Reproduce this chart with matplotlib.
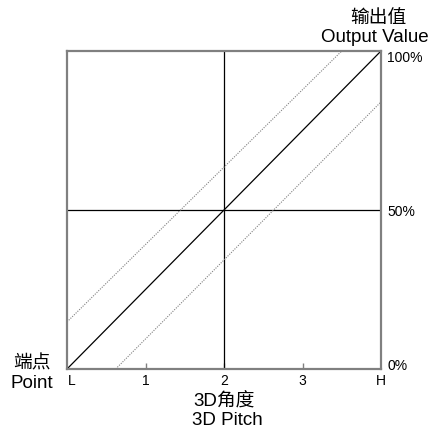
import matplotlib
matplotlib.use("Agg")
import matplotlib.pyplot as plt

plt.rcParams['font.family'] = ['Liberation Sans', 'Noto Sans CJK SC', 'DejaVu Sans']

# ---------- Data ----------
x_ticks = [0, 1, 2, 3, 4]
x_labels = ["L", "1", "2", "3", "H"]
y_ticks = [0, 50, 100]
y_labels = ["0%", "50%", "100%"]

# centre line (3D pitch L..H -> output 0..100 %)
mid_x = [0, 4]
mid_y = [0, 100]
# tolerance band, dotted
upper_x = [0, 3.50]
upper_y = [14.8, 100]
lower_x = [0.62, 4]
lower_y = [0, 84]

GRAY = "#808080"
W, H = 438, 431

fig = plt.figure(figsize=(W / 100, H / 100), dpi=100)
ax = fig.add_axes([67 / W, (H - 370) / H, 314 / W, 318 / H])

# center cross
ax.axvline(2, color="black", lw=0.9)
ax.axhline(50, color="black", lw=0.9)

ax.plot(mid_x, mid_y, color="black", lw=0.9)
ax.plot(upper_x, upper_y, color=GRAY, lw=0.8, ls=(0, (1, 1.2)))
ax.plot(lower_x, lower_y, color=GRAY, lw=0.8, ls=(0, (1, 1.2)))

ax.set_xlim(0, 4)
ax.set_ylim(0, 100)

for s in ax.spines.values():
    s.set_color(GRAY)
    s.set_linewidth(1.6)

ax.set_xticks(x_ticks[1:-1])
ax.set_xticklabels([])
ax.tick_params(axis="x", direction="in", length=4, width=1, color=GRAY)
ax.set_yticks([])

# tick labels drawn as text so L/H and the % labels sit like the original
for xv, lab in zip(x_ticks, x_labels):
    ax.text(xv + (0.06 if lab == "L" else 0), -3.6, lab, ha="center", va="center", fontsize=10)
y_nudge = {0: 1.3, 50: -0.3, 100: -1.9}
for yv, lab in zip(y_ticks, y_labels):
    ax.text(4.08, yv + y_nudge[yv], lab, ha="left", va="center", fontsize=10)

def ftext(px, py, s, **kw):
    fig.text(px / W, 1 - py / H, s, ha="center", va="center", **kw)

ftext(378, 18, "输出值", fontsize=13.5)
ftext(375, 37, "Output Value", fontsize=13.5)
ftext(32, 364, "端点", fontsize=13.5)
ftext(32, 384, "Point", fontsize=13.5)
ftext(224, 402, "3D角度", fontsize=13.5)
ftext(227, 421, "3D Pitch", fontsize=13.5)

fig.savefig("out.png", dpi=100)
